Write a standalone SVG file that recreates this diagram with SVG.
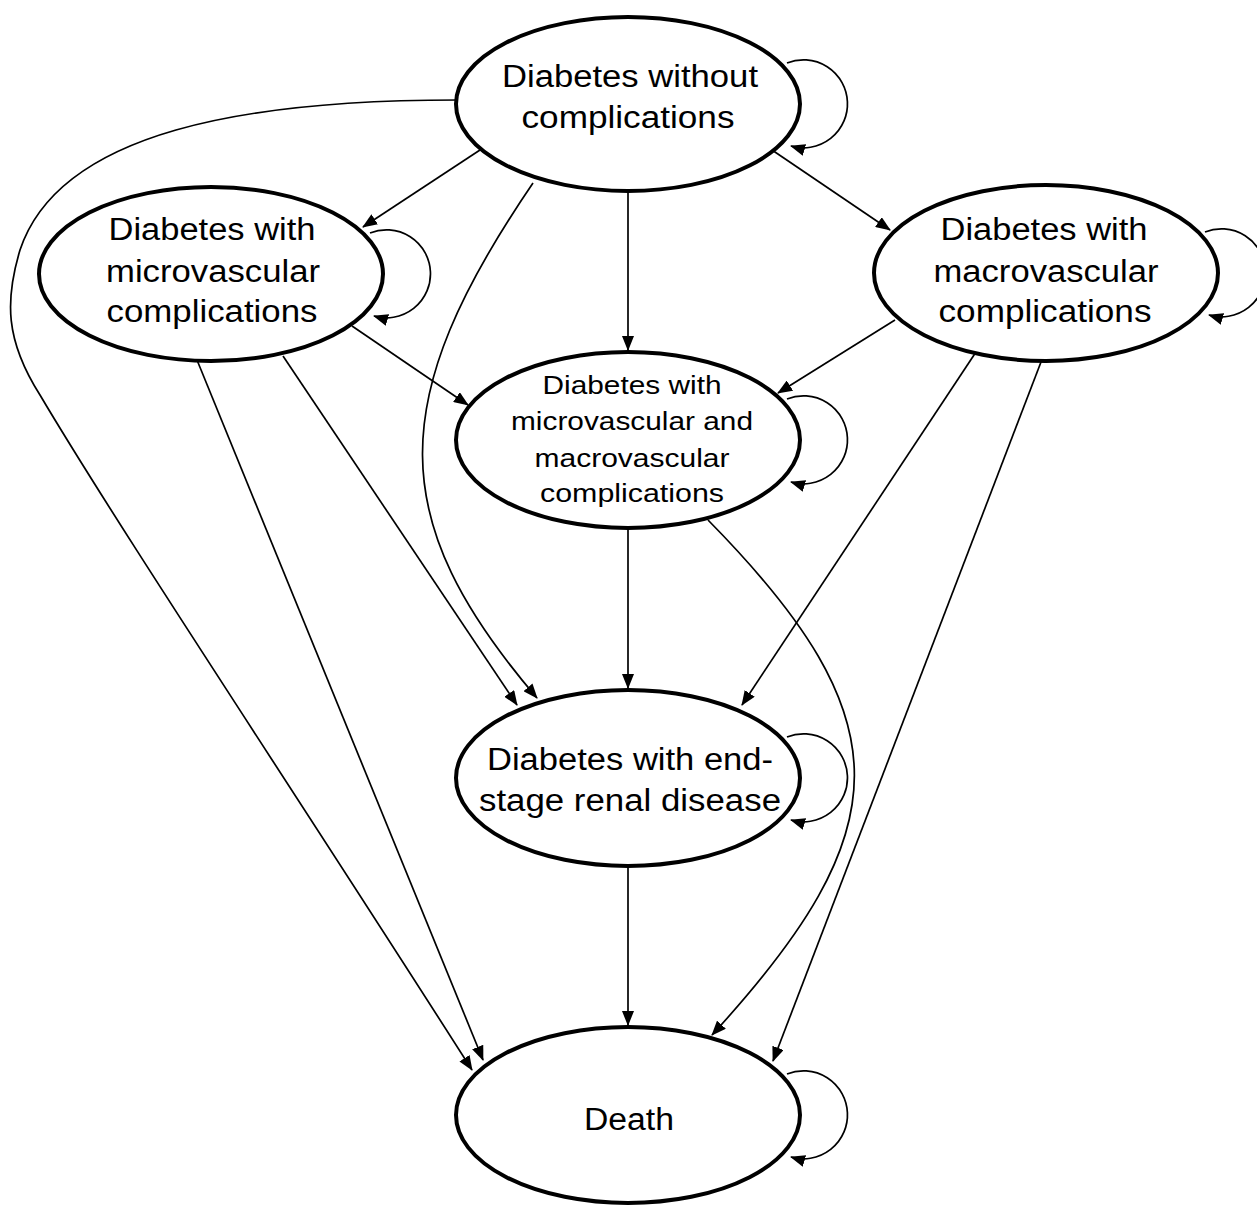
<svg xmlns="http://www.w3.org/2000/svg" width="1257" height="1207" viewBox="0 0 1257 1207">
  <style>
    .node { fill: #fff; stroke: #000; stroke-width: 4; }
    .edge { fill: none; stroke: #000; stroke-width: 1.7; }
    .lbl { font-family: "Liberation Sans", Arial, sans-serif; font-size: 31px; text-anchor: middle; fill: #000; }
    .sm { font-size: 26.5px; }
  </style>
  <defs>
    <marker id="arrow" markerUnits="userSpaceOnUse" markerWidth="15" markerHeight="12" refX="14" refY="6" orient="auto">
      <path d="M0,0 L15,6 L0,12 z" fill="#000"/>
    </marker>
  </defs>

  <!-- transitions between states -->
  <g id="connectors" class="edge" marker-end="url(#arrow)">
    <!-- from: without complications -->
    <path d="M480,150 L363,227" marker-end="url(#arrow)"/>
    <path d="M628,190 L628,350" marker-end="url(#arrow)"/>
    <path d="M772,150 L890,230" marker-end="url(#arrow)"/>
    <path d="M533,183 C385,400 385,520 537,698" marker-end="url(#arrow)"/>
    <path d="M458,100 C250,100 60,130 20,250 C5,300 5,340 40,395 C120,530 300,800 472,1070" marker-end="url(#arrow)"/>
    <path d="M787,63 A44,44 0 1 1 791,146" marker-end="url(#arrow)"/>

    <!-- from: microvascular -->
    <path d="M352,326 L468,405" marker-end="url(#arrow)"/>
    <path d="M283,356 L517,705" marker-end="url(#arrow)"/>
    <path d="M197,360 L483,1060" marker-end="url(#arrow)"/>
    <path d="M370,233 A44,44 0 1 1 374,316" marker-end="url(#arrow)"/>

    <!-- from: macrovascular -->
    <path d="M895,320 L778,393" marker-end="url(#arrow)"/>
    <path d="M976,352 L742,705" marker-end="url(#arrow)"/>
    <path d="M1041,362 L773,1061" marker-end="url(#arrow)"/>
    <path d="M1205,232 A44,44 0 1 1 1209,315" marker-end="url(#arrow)"/>

    <!-- from: microvascular and macrovascular -->
    <path d="M628,526 L628,688" marker-end="url(#arrow)"/>
    <path d="M708,520 C905,720 900,830 712,1035" marker-end="url(#arrow)"/>
    <path d="M787,399 A44,44 0 1 1 791,482" marker-end="url(#arrow)"/>

    <!-- from: end-stage renal disease -->
    <path d="M628,864 L628,1025" marker-end="url(#arrow)"/>
    <path d="M787,737 A44,44 0 1 1 791,820" marker-end="url(#arrow)"/>

    <!-- from: death -->
    <path d="M787,1074 A44,44 0 1 1 791,1157" marker-end="url(#arrow)"/>
  </g>

  <g id="node-no-complications">
    <ellipse class="node" cx="628" cy="104" rx="172" ry="87"/>
    <text class="lbl" x="630" y="87" textLength="256" lengthAdjust="spacingAndGlyphs">Diabetes without</text>
    <text class="lbl" x="628" y="128" textLength="213" lengthAdjust="spacingAndGlyphs">complications</text>
  </g>

  <g id="node-microvascular">
    <ellipse class="node" cx="211" cy="274" rx="172" ry="87"/>
    <text class="lbl" x="212" y="240" textLength="207" lengthAdjust="spacingAndGlyphs">Diabetes with</text>
    <text class="lbl" x="213" y="282" textLength="214" lengthAdjust="spacingAndGlyphs">microvascular</text>
    <text class="lbl" x="212" y="322" textLength="211" lengthAdjust="spacingAndGlyphs">complications</text>
  </g>

  <g id="node-macrovascular">
    <ellipse class="node" cx="1046" cy="273" rx="172" ry="88"/>
    <text class="lbl" x="1044" y="240" textLength="207" lengthAdjust="spacingAndGlyphs">Diabetes with</text>
    <text class="lbl" x="1046" y="282" textLength="225" lengthAdjust="spacingAndGlyphs">macrovascular</text>
    <text class="lbl" x="1045" y="322" textLength="213" lengthAdjust="spacingAndGlyphs">complications</text>
  </g>

  <g id="node-micro-and-macro">
    <ellipse class="node" cx="628" cy="440" rx="172" ry="88"/>
    <text class="lbl sm" x="632" y="394" textLength="179" lengthAdjust="spacingAndGlyphs">Diabetes with</text>
    <text class="lbl sm" x="632" y="430" textLength="242" lengthAdjust="spacingAndGlyphs">microvascular and</text>
    <text class="lbl sm" x="632" y="467" textLength="195" lengthAdjust="spacingAndGlyphs">macrovascular</text>
    <text class="lbl sm" x="632" y="502" textLength="184" lengthAdjust="spacingAndGlyphs">complications</text>
  </g>

  <g id="node-esrd">
    <ellipse class="node" cx="628" cy="778" rx="172" ry="88"/>
    <text class="lbl" x="630" y="770" textLength="286" lengthAdjust="spacingAndGlyphs">Diabetes with end-</text>
    <text class="lbl" x="630" y="811" textLength="302" lengthAdjust="spacingAndGlyphs">stage renal disease</text>
  </g>

  <g id="node-death">
    <ellipse class="node" cx="628" cy="1115" rx="172" ry="88"/>
    <text class="lbl" x="629" y="1130" textLength="90" lengthAdjust="spacingAndGlyphs">Death</text>
  </g>
</svg>
